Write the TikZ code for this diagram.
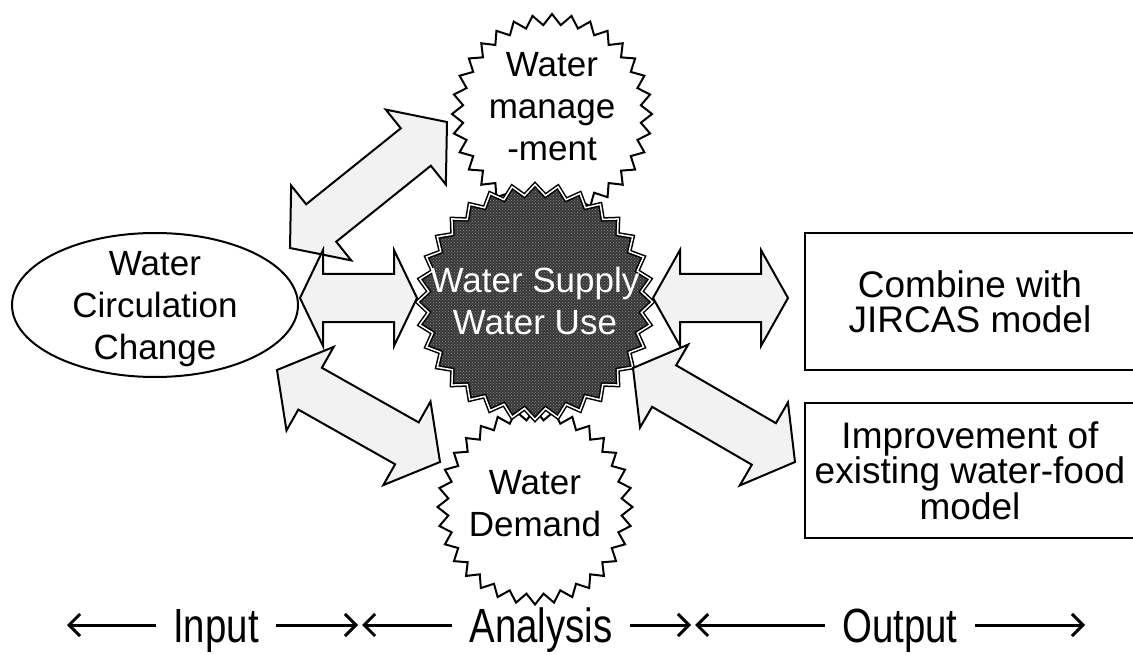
\documentclass[tikz,border=0pt]{standalone}
\usepackage{fontspec}
\setmainfont{Liberation Sans}
\newfontfamily\narrowfont[FakeStretch=0.8]{Liberation Sans}
\usetikzlibrary{shapes.geometric,calc,patterns,arrows.meta}

\newcommand\blockarrow[3]{%
  \draw[blockarr] (#1) -- ($(#1)!#3!(#2)!48pt!90:(#2)$) -- ($(#1)!#3!(#2)!24pt!90:(#2)$)
    -- ($(#2)!#3!(#1)!24pt!-90:(#1)$) -- ($(#2)!#3!(#1)!48pt!-90:(#1)$) -- (#2)
    -- ($(#2)!#3!(#1)!48pt!90:(#1)$) -- ($(#2)!#3!(#1)!24pt!90:(#1)$)
    -- ($(#1)!#3!(#2)!24pt!-90:(#2)$) -- ($(#1)!#3!(#2)!48pt!-90:(#2)$) -- cycle;}

\begin{document}
\begin{tikzpicture}[x=1pt,y=-1pt,
    every node/.style={inner sep=0pt},
    txt/.style={align=center, font=\fontsize{35}{42}\selectfont},
    burst/.style={star, star points=32, star point ratio=1.12, draw, fill=white, line width=2pt},
    darkburst/.style={star, star points=32, star point ratio=1.1, draw=black, line width=1.5pt,
      double=white, double distance=1.5pt, preaction={fill=black!78},
      pattern=crosshatch dots, pattern color=black!45},
    outbox/.style={draw, line width=2pt, minimum width=330, align=center},
    blockarr/.style={draw, line width=2pt, line join=miter, fill=black!5},
    lbl/.style={font=\narrowfont\fontsize{48}{48}\selectfont, text height=34, text depth=0, inner xsep=17},
    axis/.style={line width=3pt, -{Straight Barb[length=11pt,width=22pt]}}]
    \useasboundingbox (0,0) rectangle (1133,655);

    \node[draw, ellipse, line width=2pt, minimum width=286, minimum height=144] (circ) at (155,305) {};
    \node[txt] (circ-t) at (155,309) {Water\\Circulation\\Change};

    \node[outbox, minimum height=137, font=\fontsize{37}{35}\selectfont] (combine) at (970,301.5) {Combine with\\JIRCAS model};
    \node[outbox, minimum height=135, font=\fontsize{37}{34}\selectfont] (improve) at (970,470.5) {Improvement of\\existing water-food\\model};

    \node[burst, minimum size=200] (mgmt) at (552,114) {};
    \node[txt] (mgmt-t) at (552,107) {Water\\manage\\-ment};
    \node[burst, minimum size=195] (demand) at (535,507) {};
    \node[txt] (demand-t) at (535,504) {Water\\Demand};
    \node[darkburst, minimum size=235] (core) at (535,302) {};
    \node[txt, text=white] (core-t) at (535,301) {Water Supply\\Water Use};

    \coordinate (ul-a) at (290,248);
    \coordinate (ul-b) at (447,122);
    \coordinate (l-a) at (300,298);
    \coordinate (l-b) at (417,298);
    \coordinate (ll-a) at (277,370);
    \coordinate (ll-b) at (440,462);
    \coordinate (r-a) at (653,298);
    \coordinate (r-b) at (788,298);
    \coordinate (lr-a) at (633,368);
    \coordinate (lr-b) at (795,462);

    \blockarrow{ul-a}{ul-b}{40pt}
    \blockarrow{l-a}{l-b}{23pt}
    \blockarrow{ll-a}{ll-b}{38pt}
    \blockarrow{r-a}{r-b}{27pt}
    \blockarrow{lr-a}{lr-b}{36pt}

    \node[lbl] (input) at (216,625) {Input};
    \node[lbl] (analysis) at (541,625) {Analysis};
    \node[lbl] (output) at (900,625) {Output};
    \coordinate (e1) at (67,625);
    \coordinate (e2) at (358,625);
    \coordinate (e3) at (362,625);
    \coordinate (e4) at (691,625);
    \coordinate (e5) at (695,625);
    \coordinate (e6) at (1085,625);

    \draw[axis] (input) -- (e1);
    \draw[axis] (input) -- (e2);
    \draw[axis] (analysis) -- (e3);
    \draw[axis] (analysis) -- (e4);
    \draw[axis] (output) -- (e5);
    \draw[axis] (output) -- (e6);
\end{tikzpicture}
\end{document}
